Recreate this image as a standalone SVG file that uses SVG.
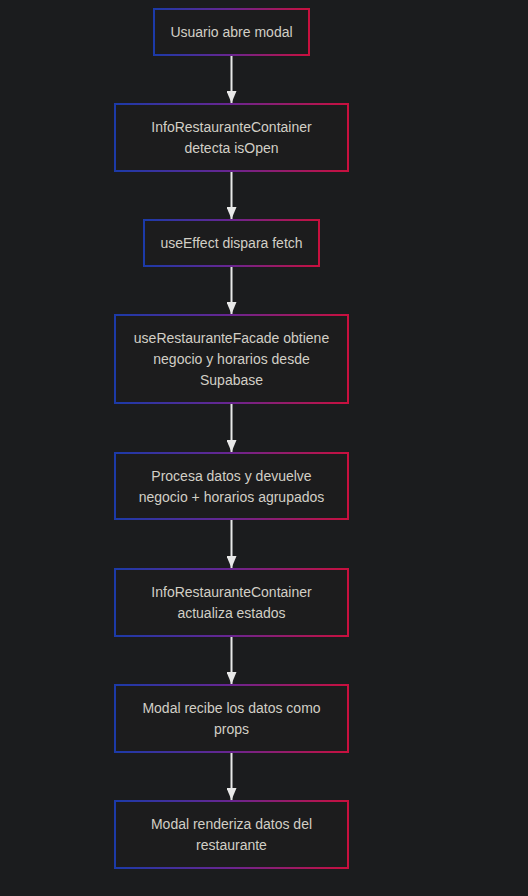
<svg xmlns="http://www.w3.org/2000/svg" width="528" height="896" viewBox="0 0 528 896">
<defs>
<linearGradient id="g" x1="0" y1="0" x2="1" y2="0">
<stop offset="0" stop-color="#1c3aa8"/>
<stop offset="0.5" stop-color="#6a2590"/>
<stop offset="1" stop-color="#c8103e"/>
</linearGradient>
<marker id="ah" viewBox="0 0 12 10" refX="12" refY="5" markerWidth="12" markerHeight="10" markerUnits="userSpaceOnUse" orient="auto">
<path d="M0,0 L12,5 L0,10 z" fill="#e8e8e8"/>
</marker>
<style>
.n{fill:#1c1c1d;stroke:url(#g);stroke-width:2}
.t{font-family:"Liberation Sans",Arial,sans-serif;font-size:14px;fill:#d2cfc6;text-anchor:middle}
.c{stroke:#e8e8e8;stroke-width:2;fill:none}
</style>
</defs>
<rect width="528" height="896" fill="#1b1c1e"/>
<g id="connectors">
<line class="c" x1="231.5" y1="56" x2="231.5" y2="103" marker-end="url(#ah)"/>
<line class="c" x1="231.5" y1="172" x2="231.5" y2="219" marker-end="url(#ah)"/>
<line class="c" x1="231.5" y1="267" x2="231.5" y2="314" marker-end="url(#ah)"/>
<line class="c" x1="231.5" y1="404" x2="231.5" y2="452" marker-end="url(#ah)"/>
<line class="c" x1="231.5" y1="520" x2="231.5" y2="568" marker-end="url(#ah)"/>
<line class="c" x1="231.5" y1="637" x2="231.5" y2="684" marker-end="url(#ah)"/>
<line class="c" x1="231.5" y1="753" x2="231.5" y2="800" marker-end="url(#ah)"/>
</g>
<g id="n1"><rect class="n" x="154" y="9" width="155" height="46"/><text class="t" x="231.5" y="37">Usuario abre modal</text></g>
<g id="n2"><rect class="n" x="115" y="104" width="233" height="67"/><text class="t" x="231.5" y="132">InfoRestauranteContainer</text><text class="t" x="231.5" y="153">detecta isOpen</text></g>
<g id="n3"><rect class="n" x="144" y="220" width="175" height="46"/><text class="t" x="231.5" y="248">useEffect dispara fetch</text></g>
<g id="n4"><rect class="n" x="115" y="315" width="233" height="88"/><text class="t" x="231.5" y="343">useRestauranteFacade obtiene</text><text class="t" x="231.5" y="364">negocio y horarios desde</text><text class="t" x="231.5" y="385">Supabase</text></g>
<g id="n5"><rect class="n" x="115" y="453" width="233" height="66"/><text class="t" x="231.5" y="480.5">Procesa datos y devuelve</text><text class="t" x="231.5" y="501.5">negocio + horarios agrupados</text></g>
<g id="n6"><rect class="n" x="115" y="569" width="233" height="67"/><text class="t" x="231.5" y="597">InfoRestauranteContainer</text><text class="t" x="231.5" y="618">actualiza estados</text></g>
<g id="n7"><rect class="n" x="115" y="685" width="233" height="67"/><text class="t" x="231.5" y="713">Modal recibe los datos como</text><text class="t" x="231.5" y="734">props</text></g>
<g id="n8"><rect class="n" x="115" y="801" width="233" height="67"/><text class="t" x="231.5" y="829">Modal renderiza datos del</text><text class="t" x="231.5" y="850">restaurante</text></g>
</svg>
